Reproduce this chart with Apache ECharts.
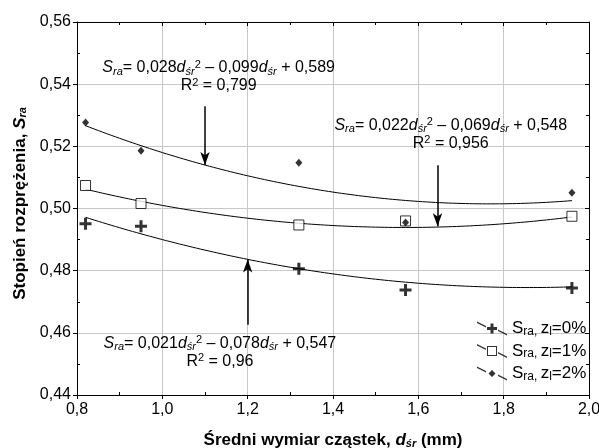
<!DOCTYPE html>
<html style="height: 100%; margin: 0; padding: 0;">
<head>
    <meta charset="utf-8">
    <title>Stopień rozprężenia</title>
    <script src="https://cdn.jsdelivr.net/npm/echarts@6/dist/echarts.min.js"></script>
    <style>
        body, html {
            height: 100%;
            margin: 0;
            padding: 0;
            background-color: #ffffff;
        }
        #main {
            width: 599px;
            height: 448px;
        }
    </style>
</head>
<body>
<div id="main"></div>
<script type="text/javascript">
    // średni wymiar cząstek (mm)
    var dSr = [0.82, 0.95, 1.32, 1.57, 1.96];
    // stopień rozprężenia dla zl = 0%, 1%, 2%
    var sra0 = [0.4951, 0.4943, 0.4806, 0.4738, 0.4744];
    var sra1 = [0.5074, 0.5016, 0.4947, 0.4960, 0.4975];
    var sra2 = [0.5277, 0.5186, 0.5147, 0.4955, 0.5051];
    // współczynniki trendu (a, b, c) z równań na wykresie
    var fit0 = [0.021, -0.078, 0.547];
    var fit1 = [0.022, -0.069, 0.548];
    var fit2 = [0.028, -0.099, 0.589];
    var r2Labels = ['0,96', '0,956', '0,799'];
    var legendNames = ['zl0', 'zl1', 'zl2'];
    var legendPct = ['0%', '1%', '2%'];

    var myChart = echarts.init(document.getElementById('main'));
    var FONT = 'Liberation Sans, Arial, sans-serif';

    function pairs(ys) {
        return dSr.map(function (x, i) { return [x, ys[i]]; });
    }
    function trend(c) {
        var pts = [];
        for (var x = dSr[0]; x <= dSr[dSr.length - 1] + 1e-9; x += 0.01) {
            pts.push([x, c[0] * x * x + c[1] * x + c[2]]);
        }
        return pts;
    }
    function num(v) { return String(v).replace('.', ','); }
    function eqText(c, r2) {
        return '{si|S}{sub|ra}{n|= ' + num(c[0]) + '}{di|d}{sub|śr}{sup|2}{n| – ' + num(-c[1]) +
            '}{di|d}{sub|śr}{n| + ' + num(c[2]) + '}\n{n|R}{sup|2}{n| = ' + r2 + '}';
    }
    var eqRich = {
        n: { fontSize: 16, fontFamily: FONT, color: '#000', lineHeight: 18 },
        si: { fontSize: 16, fontFamily: FONT, fontStyle: 'italic', color: '#000', lineHeight: 18 },
        di: { fontSize: 16, fontFamily: FONT, fontStyle: 'italic', color: '#000', lineHeight: 18 },
        sub: { fontSize: 11, fontFamily: FONT, fontStyle: 'italic', color: '#000', verticalAlign: 'bottom', lineHeight: 18, padding: [5, 0, 0, 0] },
        sup: { fontSize: 11, fontFamily: FONT, color: '#000', verticalAlign: 'top', lineHeight: 18, padding: [0, 0, 6, 0] }
    };

    var ICON_L = 'M0,0 L9,4.5 L9,6 L0,1.5 Z M21,8 L30,12.5 L30,14 L21,9.5 Z ';
    var legendIcons = [
        'path://' + ICON_L + 'M13.5,2 H16.5 V5.5 H20 V8.5 H16.5 V12 H13.5 V8.5 H10 V5.5 H13.5 Z',
        'path://' + ICON_L + 'M10,2 H20 V12 H10 Z M11,3 V11 H19 V3 Z',
        'path://' + ICON_L + 'M15,3.5 L18.5,7 L15,10.5 L11.5,7 Z'
    ];
    var PLUS = 'path://M4.5,0 H7.5 V4.5 H12 V7.5 H7.5 V12 H4.5 V7.5 H0 V4.5 H4.5 Z';

    var axisLine = { show: true, lineStyle: { color: '#000', width: 1 } };
    function xAx(extra) {
        return Object.assign({
            type: 'value', min: 0.8, max: 2.0, interval: 0.2,
            axisLine: axisLine, axisLabel: { show: false }, splitLine: { show: false },
            axisTick: { show: false }
        }, extra);
    }
    function yAx(extra) {
        return Object.assign({
            type: 'value', min: 0.44, max: 0.56, interval: 0.02,
            axisLine: axisLine, axisLabel: { show: false }, splitLine: { show: false },
            axisTick: { show: false }
        }, extra);
    }
    var titleRich = {
        b: { fontSize: 17, fontWeight: 'bold', fontFamily: FONT, color: '#000' },
        bi: { fontSize: 17, fontWeight: 'bold', fontStyle: 'italic', fontFamily: FONT, color: '#000' },
        bs: { fontSize: 11, fontWeight: 'bold', fontStyle: 'italic', fontFamily: FONT, color: '#000', verticalAlign: 'bottom', padding: [7, 0, 0, 0] }
    };

    var option = {
        animation: false,
        textStyle: { fontFamily: FONT },
        grid: { left: 77, right: 10, top: 22, bottom: 53, containLabel: false, outerBoundsMode: 'none' },
        legend: {
            orient: 'vertical',
            left: 472,
            top: 315,
            itemWidth: 30,
            itemHeight: 14,
            itemGap: 5,
            data: legendNames.map(function (n, i) {
                return { name: n, icon: legendIcons[i], itemStyle: { color: '#000', borderWidth: 0 } };
            }),
            formatter: function (name) {
                var i = legendNames.indexOf(name);
                return '{n|S}{sub|ra,} {n|z}{sub|l}{n|=' + legendPct[i] + '}';
            },
            textStyle: {
                rich: {
                    n: { fontSize: 17, fontFamily: FONT, color: '#000', lineHeight: 18 },
                    sub: { fontSize: 12, fontFamily: FONT, color: '#000', verticalAlign: 'bottom', lineHeight: 18, padding: [5, 0, 0, 0] }
                }
            }
        },
        xAxis: [
            xAx({
                position: 'bottom',
                name: '{b|Średni wymiar cząstek, }{bi|d}{bs|śr}{b| (mm)}',
                nameLocation: 'middle',
                nameGap: 36,
                nameTextStyle: { rich: titleRich },
                axisLabel: { show: true, fontSize: 16, color: '#000', margin: 7, formatter: function (v) { return v.toFixed(1).replace('.', ','); } },
                axisTick: { show: true, inside: false, length: 4, lineStyle: { color: '#000' } },
                splitLine: { show: true, lineStyle: { color: '#c8c8c8', width: 1 } }
            }),
            xAx({
                position: 'top',
                axisTick: { show: true, inside: true, length: 4, lineStyle: { color: '#000' } },
                minorTick: { show: true, splitNumber: 2, length: 3, lineStyle: { color: '#000' } }
            }),
            xAx({
                position: 'bottom', offset: 0,
                axisLine: { show: false },
                axisTick: { show: false, inside: true },
                minorTick: { show: true, splitNumber: 2, length: 3, lineStyle: { color: '#000' } }
            })
        ],
        yAxis: [
            yAx({
                position: 'left',
                name: '{b|Stopień rozprężenia, }{bi|S}{bs|ra}',
                nameLocation: 'middle',
                nameGap: 47,
                nameRotate: 90,
                nameTextStyle: { padding: [0, 0, 0, 10], rich: titleRich },
                axisLabel: { show: true, fontSize: 16, color: '#000', margin: 6, formatter: function (v) { return v.toFixed(2).replace('.', ','); } },
                axisTick: { show: true, inside: false, length: 4, lineStyle: { color: '#000' } },
                splitLine: { show: true, lineStyle: { color: '#c8c8c8', width: 1 } }
            }),
            yAx({
                position: 'right',
                axisTick: { show: true, inside: true, length: 4, lineStyle: { color: '#000' } },
                minorTick: { show: true, splitNumber: 2, length: 3, lineStyle: { color: '#000' } }
            }),
            yAx({
                position: 'left', offset: 0,
                axisLine: { show: false },
                axisTick: { show: false, inside: true },
                minorTick: { show: true, splitNumber: 2, length: 3, lineStyle: { color: '#000' } }
            })
        ],
        series: [
            {
                name: 'trend0', type: 'line', data: trend(fit0), showSymbol: false, silent: true,
                lineStyle: { color: '#000', width: 1 }, z: 2,
                markLine: {
                    silent: true, symbol: ['none', 'arrow'], symbolSize: [7, 13],
                    lineStyle: { color: '#000', width: 1.5, type: 'solid' }, label: { show: false },
                    data: [
                        [{ coord: [1.2, 0.4626] }, { coord: [1.2, 0.4836] }],
                        [{ coord: [1.1, 0.5329] }, { coord: [1.1, 0.5140] }],
                        [{ coord: [1.645, 0.5139] }, { coord: [1.645, 0.4943] }]
                    ]
                },
                markPoint: {
                    silent: true, symbol: 'circle', symbolSize: 0,
                    label: { show: true, position: 'inside', align: 'center', rich: eqRich },
                    data: [
                        { coord: [1.135, 0.4537], label: { formatter: eqText(fit0, r2Labels[0]) } },
                        { coord: [1.676, 0.5237], label: { formatter: eqText(fit1, r2Labels[1]) } },
                        { coord: [1.132, 0.5423], label: { formatter: eqText(fit2, r2Labels[2]) } }
                    ]
                }
            },
            { name: 'trend1', type: 'line', data: trend(fit1), showSymbol: false, silent: true, lineStyle: { color: '#000', width: 1 }, z: 2 },
            { name: 'trend2', type: 'line', data: trend(fit2), showSymbol: false, silent: true, lineStyle: { color: '#000', width: 1 }, z: 2 },
            {
                name: 'zl0', type: 'scatter', data: pairs(sra0), symbol: PLUS, symbolSize: 12,
                itemStyle: { color: '#000' }, z: 5
            },
            {
                name: 'zl1', type: 'scatter', data: pairs(sra1), symbol: 'rect', symbolSize: 10,
                itemStyle: { color: '#fff', borderColor: '#000', borderWidth: 1 }, z: 4
            },
            {
                name: 'zl2', type: 'scatter', data: pairs(sra2), symbol: 'diamond', symbolSize: [7, 8],
                itemStyle: { color: '#000' }, z: 6
            }
        ]
    };

    myChart.setOption(option);
</script>
</body>
</html>
